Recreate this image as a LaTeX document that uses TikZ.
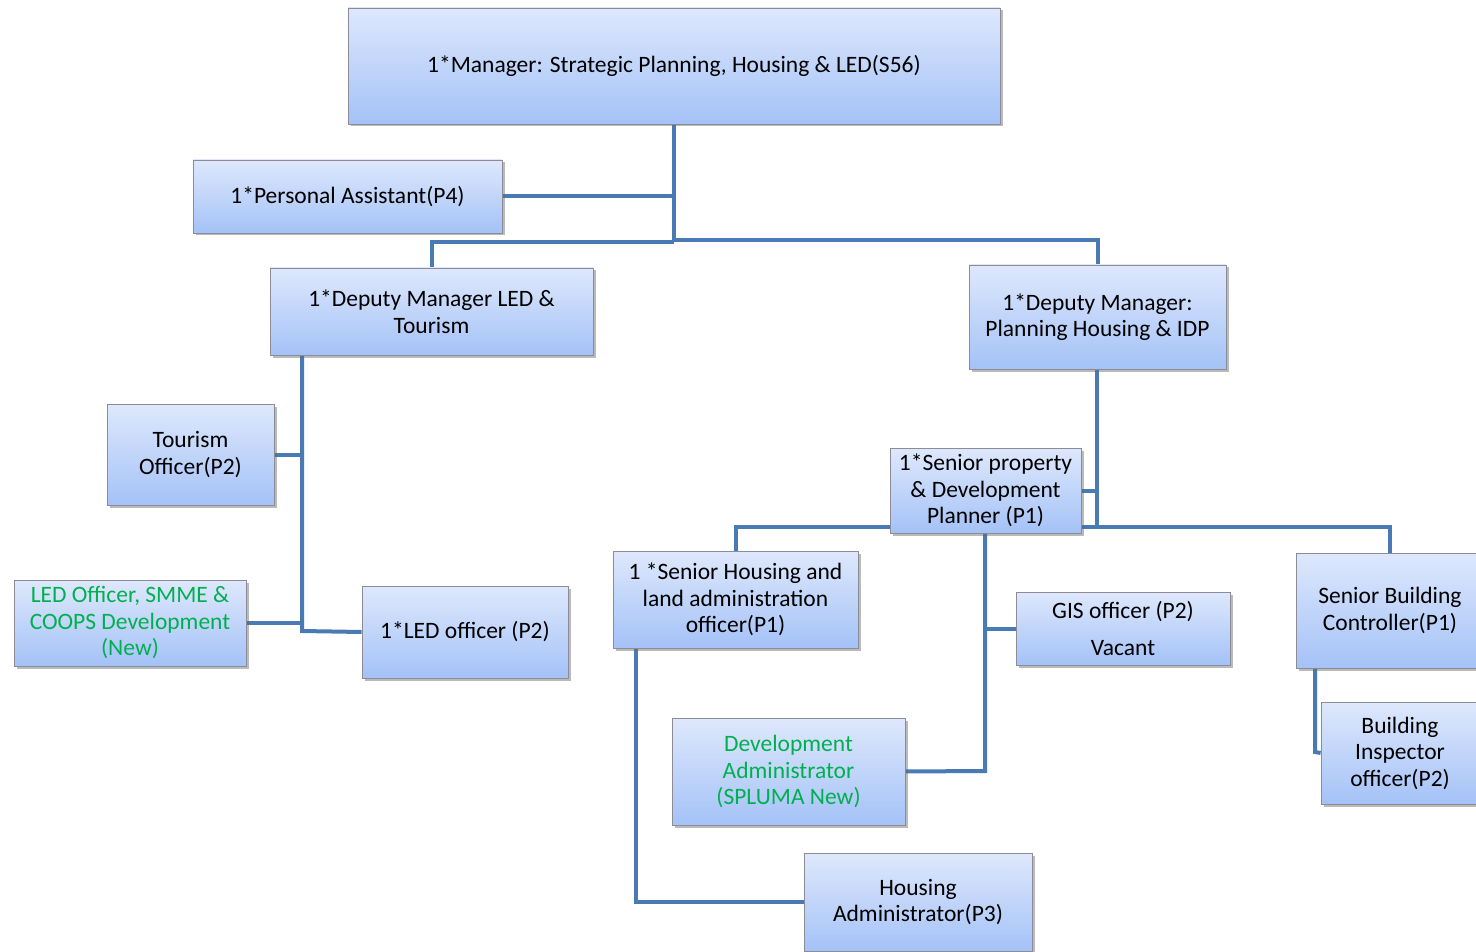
\documentclass[tikz,border=0pt]{standalone}
\usepackage{fontspec}
\setmainfont{Carlito}
\usetikzlibrary{shadows,backgrounds}
\definecolor{boxtop}{RGB}{222,232,252}
\definecolor{boxbot}{RGB}{164,194,247}
\definecolor{boxline}{RGB}{140,140,150}
\definecolor{conn}{RGB}{74,122,180}
\definecolor{newgreen}{RGB}{0,176,80}
\tikzset{
  box/.style={draw=boxline, line width=0.8pt, top color=boxtop, bottom color=boxbot,
    align=center, inner sep=0pt, font=\fontsize{23.5}{26.5}\selectfont,
    drop shadow={shadow xshift=2.5pt, shadow yshift=-2.5pt, opacity=0.45, fill=black!60}},
  link/.style={draw=conn, line width=4pt},
  newtxt/.style={text=newgreen}
}
\begin{document}
\begin{tikzpicture}[x=1pt,y=-1pt]
\useasboundingbox (0,0) rectangle (1476,952);
\node[box, minimum width=652, minimum height=116] (mgr) at (674,66) {1*Manager: Strategic Planning, Housing \& LED(S56)};
\node[box, minimum width=309, minimum height=73] (pa) at (347.5,196.5) {1*Personal Assistant(P4)};
\node[box, minimum width=323, minimum height=87] (dled) at (431.5,311.5) {1*Deputy Manager LED \&\\Tourism};
\node[box, minimum width=257, minimum height=104] (dplan) at (1097.5,317) {1*Deputy Manager:\\Planning Housing \& IDP};
\node[box, minimum width=167, minimum height=101] (tour) at (190.5,454.5) {Tourism\\Officer(P2)};
\node[box, minimum width=232, minimum height=86, newtxt] (smme) at (130,623) {LED Officer, SMME \&\\COOPS Development\\(New)};
\node[box, minimum width=206, minimum height=92] (ledo) at (465,632) {1*LED officer (P2)};
\node[box, minimum width=191, minimum height=85] (spdp) at (985.5,490.5) {1*Senior property\\\& Development\\Planner (P1)};
\node[box, minimum width=245, minimum height=97] (shla) at (735.5,599.5) {1 *Senior Housing and\\land administration\\officer(P1)};
\node[box, minimum width=214, minimum height=73] (gis) at (1123,628.5) {GIS officer (P2)\\[11pt]Vacant};
\node[box, minimum width=188, minimum height=115] (sbc) at (1390,610.5) {Senior Building\\Controller(P1)};
\node[box, minimum width=158, minimum height=102] (bio) at (1400,753) {Building\\Inspector\\officer(P2)};
\node[box, minimum width=233, minimum height=107, newtxt] (dev) at (788.5,771.5) {Development\\Administrator\\(SPLUMA New)};
\node[box, minimum width=228, minimum height=98] (hadm) at (918,902) {Housing\\Administrator(P3)};
\coordinate (c1) at (674,242);
\coordinate (c2) at (302,631);
\coordinate (c3) at (1097,527);
\coordinate (c4) at (985,771);
\coordinate (c5) at (636,902);
\coordinate (c6) at (1315,752);
\begin{scope}[on background layer]
\draw[link] (mgr.south) -- (c1);
\draw[link] (pa.east) -- (pa.east -| mgr.south);
\draw[link] (c1) -- (431.5,242) -- (dled.north);
\draw[link] (674,240) -- (1097.5,240) -- (dplan.north);
\draw[link] (302,355) -- (c2) -- (ledo.west);
\draw[link] (tour.east) -- (tour.east -| c2);
\draw[link] (smme.east) -- (smme.east -| c2);
\draw[link] (1097,369) -- (c3) -- (1390,527) -- (sbc.north);
\draw[link] (spdp.east) -- (spdp.east -| c3);
\draw[link] (c3) -- (735.5,527) -- (shla.north);
\draw[link] (985,533) -- (c4) -- (dev.east);
\draw[link] (gis.west) -- (gis.west -| c4);
\draw[link] (636,648) -- (c5) -- (hadm.west);
\draw[link] (1315,668) -- (c6) -- (bio.west);
\end{scope}
\end{tikzpicture}
\end{document}
